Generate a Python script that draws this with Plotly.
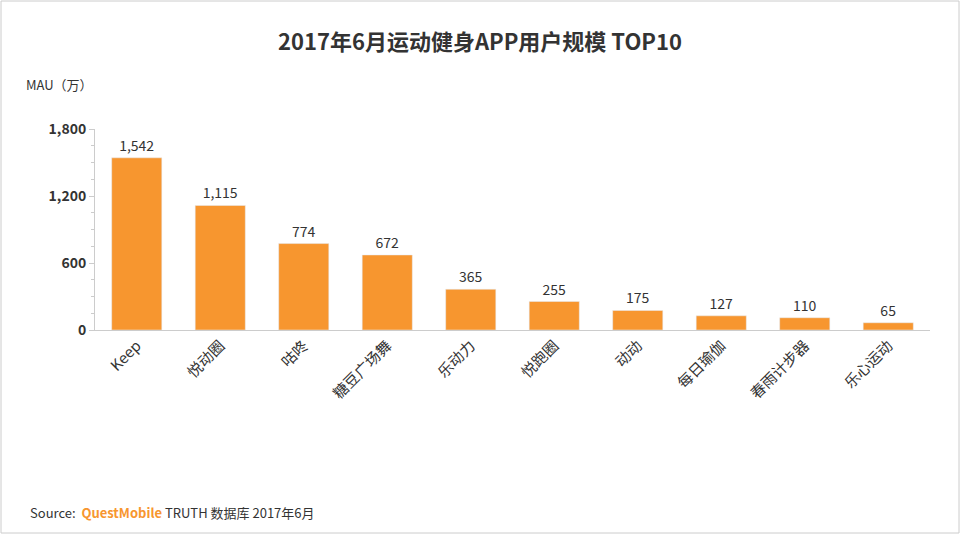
import plotly.graph_objects as go

apps = ["Keep","悦动圈","咕咚","糖豆广场舞","乐动力","悦跑圈","动动","每日瑜伽","春雨计步器","乐心运动"]
mau = [1542,1115,774,672,365,255,175,127,110,65]
yticks = [0,600,1200,1800]

fig = go.Figure(go.Bar(x=apps, y=mau, marker_color="#F7962F", width=0.6,
    text=[f"{v:,}" for v in mau], textposition="outside",
    textfont=dict(size=14, color="#333"), cliponaxis=False))
fig.update_layout(
    width=960, height=534, paper_bgcolor="white", plot_bgcolor="white",
    margin=dict(l=95, r=30, t=129, b=204),
    font=dict(family="Noto Sans CJK SC", color="#333"),
    title=dict(text="<b>2017年6月运动健身APP用户规模 TOP10</b>", x=0.5, y=0.935,
               xanchor="center", font=dict(size=22, color="#333")),
    showlegend=False,
    xaxis=dict(tickangle=-45, tickfont=dict(size=15), showline=True, linecolor="#ccc",
               ticks=""),
    yaxis=dict(range=[0,1800], tickvals=yticks, ticktext=[f"<b>{v:,}</b>" for v in yticks],
               tickfont=dict(size=14), showgrid=False, showline=True, linecolor="#ccc",
               ticks="outside", ticklen=5, tickcolor="#ccc",
               minor=dict(dtick=150, ticks="outside", ticklen=3, tickcolor="#ccc"), zeroline=False),
    annotations=[
        dict(text="MAU（万）", x=24, y=84, xref="paper", yref="paper", showarrow=False,
             xanchor="left", yanchor="middle", font=dict(size=13)),
        dict(text="Source:  <b><span style='color:#F7962F'>QuestMobile</span></b> TRUTH 数据库 2017年6月",
             x=28, y=512, xref="paper", yref="paper", showarrow=False, xanchor="left",
             yanchor="middle", font=dict(size=13)),
    ],
    shapes=[dict(type="rect", xref="paper", yref="paper", x0=0, y0=0, x1=1, y1=1,
                 line=dict(color="#ccc", width=1))],
)
pw, ph = 960-95-30, 534-129-204
for a in fig.layout.annotations:
    px, py = a.x, a.y
    a.x = (px-95)/pw
    a.y = (534-204-py)/ph
fig.layout.shapes[0].update(x0=(1-95)/pw, x1=(959-95)/pw, y0=(534-204-533)/ph, y1=(534-204-1)/ph)
fig.write_html("out.html", config={"displayModeBar": False},
               post_script="document.body.style.margin='0';document.body.style.overflow='hidden';")
